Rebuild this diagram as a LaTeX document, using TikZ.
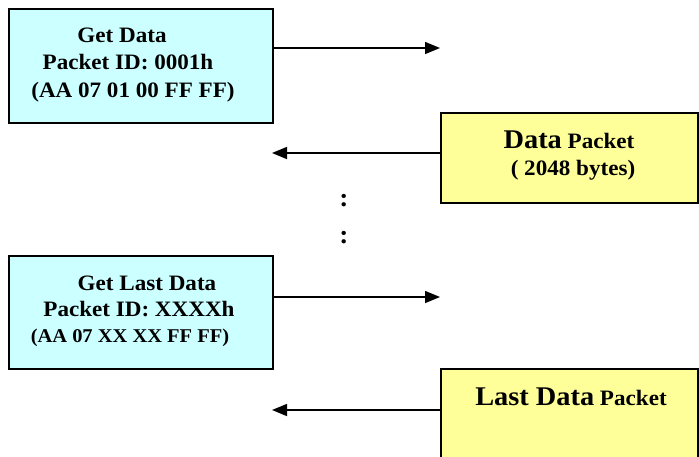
\documentclass[tikz,border=0pt]{standalone}
\usepackage{fontspec}
\setmainfont{Liberation Serif}[FakeStretch=1.05]
\usetikzlibrary{arrows.meta}
\definecolor{cyanbox}{HTML}{CCFFFF}
\definecolor{yellowbox}{HTML}{FFFF99}
\tikzset{
  reqbox/.style={draw=black, line width=1.5pt, fill=cyanbox, inner sep=0pt, anchor=north west},
  ansbox/.style={draw=black, line width=1.5pt, fill=yellowbox, inner sep=0pt, anchor=north west},
  txt/.style={anchor=base, inner sep=0pt, font=\fontsize{22}{26}\selectfont\bfseries},
  smalltxt/.style={anchor=base, inner sep=0pt, font=\fontsize{19.5}{23}\selectfont\bfseries},
  flow/.style={line width=1.5pt, -{Triangle[length=15pt,width=12pt]}}
}
\newcommand{\bigword}[1]{{\fontsize{27}{32}\selectfont #1}}
\begin{document}
\begin{tikzpicture}[x=1pt,y=-1pt]
  \clip (0,0) rectangle (699,456);
  \fill[white] (0,0) rectangle (699,456);
  % boxes
  \node[reqbox, minimum width=264pt, minimum height=114pt] (box1) at (8,8) {};
  \node[ansbox, minimum width=257pt, minimum height=90pt] (box2) at (440,112) {};
  \node[reqbox, minimum width=264pt, minimum height=113pt] (box3) at (8,255) {};
  \node[ansbox, minimum width=257pt, minimum height=120pt] (box4) at (440,368) {};
  % texts box1
  \node[txt] (t11) at (122,42) {Get Data};
  \node[txt] (t12) at (128,69) {Packet ID: 0001h};
  \node[txt] (t13) at (133,97) {(AA 07 01 00 FF FF)};
  % texts box2
  \node[txt] (t21) at (569,148) {\bigword{Data} Packet};
  \node[txt] (t22) at (573,175) {( 2048 bytes)};
  % texts box3
  \node[txt] (t31) at (147,290) {Get Last Data};
  \node[txt] (t32) at (139,316) {Packet ID: XXXXh};
  \node[smalltxt] (t33) at (130,342) {(AA 07 XX XX FF FF)};
  % texts box4
  \node[txt] (t41) at (571,405) {\bigword{Last Data} Packet};
  % dots
  \node[txt, font=\fontsize{26}{30}\selectfont\bfseries] (d1) at (344,206) {:};
  \node[txt, font=\fontsize{26}{30}\selectfont\bfseries] (d2) at (344,243) {:};
  % arrows
  \coordinate (e1) at (440,48);
  \coordinate (e2) at (272,153);
  \coordinate (e3) at (440,297);
  \coordinate (e4) at (272,410);
  \draw[flow] (box1.east |- e1) -- (e1);
  \draw[flow] (box2.west |- e2) -- (e2);
  \draw[flow] (box3.east |- e3) -- (e3);
  \draw[flow] (box4.west |- e4) -- (e4);
\end{tikzpicture}
\end{document}
